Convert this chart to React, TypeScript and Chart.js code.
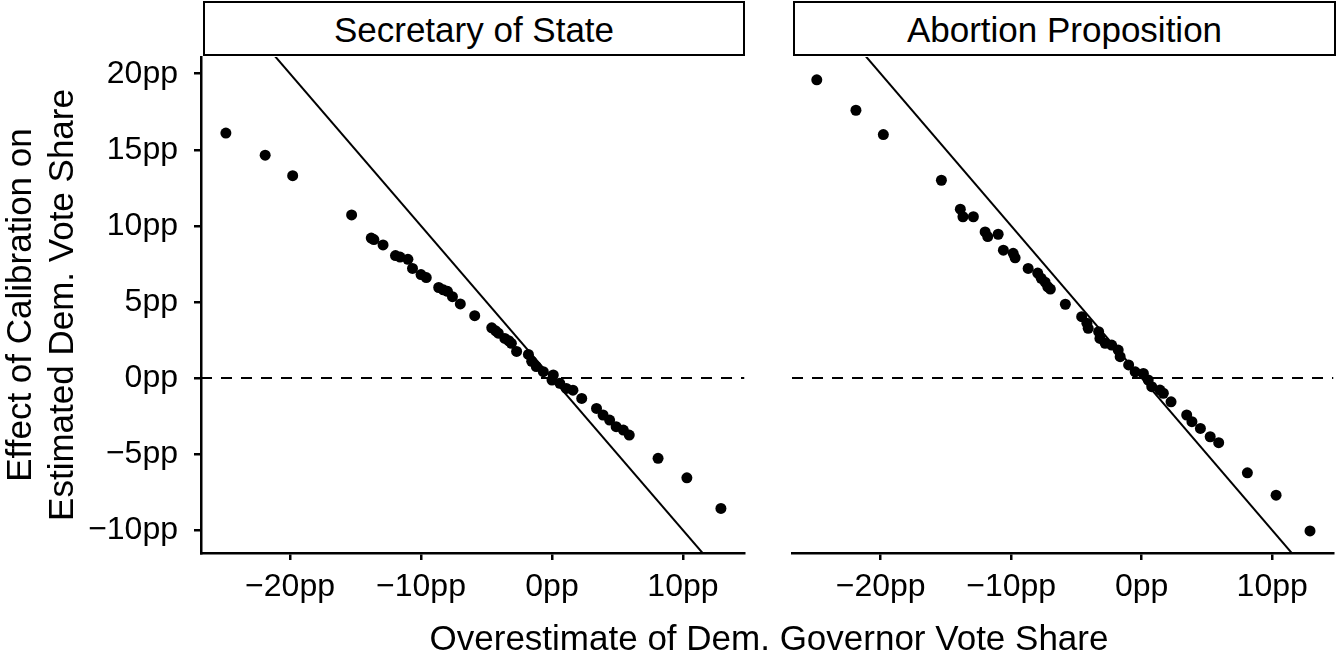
import { useEffect, useRef } from "react";
import { Chart, registerables } from "chart.js";

Chart.register(...registerables);

// axis ranges (pp)
const X_MIN = -26.8;
const X_MAX = 14.7;
const Y_MIN = -11.5;
const Y_MAX = 21.1;
const DIAG_SLOPE = -1;

const xTicks = [-20, -10, 0, 10];
const yTicks = [-10, -5, 0, 5, 10, 15, 20];

const panelTitles = ["Secretary of State", "Abortion Proposition"];
const xTitle = "Overestimate of Dem. Governor Vote Share";
const yTitle = ["Effect of Calibration on", "Estimated Dem. Vote Share"];

// Secretary of State
const sosX = [-24.9, -21.9, -19.8, -15.3, -13.8, -13.6, -12.9, -11.95, -11.6, -11.0, -10.65, -10.0, -9.6, -8.65, -8.3, -7.98, -7.6, -7.0, -5.9, -4.6, -4.3, -4.1, -3.6, -3.3, -3.1, -2.7, -1.8, -1.55, -1.2, -0.66, 0.1, 0.0, 0.6, 1.1, 1.6, 2.27, 3.4, 3.9, 4.4, 4.9, 5.45, 5.9, 8.1, 10.3, 12.9];
const sosY = [16.1, 14.65, 13.3, 10.72, 9.2, 9.1, 8.75, 8.05, 7.95, 7.8, 7.2, 6.8, 6.6, 5.95, 5.8, 5.7, 5.35, 4.87, 4.1, 3.3, 3.1, 2.95, 2.6, 2.45, 2.28, 1.75, 1.55, 1.1, 0.75, 0.42, 0.2, -0.13, -0.35, -0.68, -0.8, -1.34, -2.0, -2.43, -2.76, -3.2, -3.42, -3.75, -5.28, -6.56, -8.57];

// Abortion Proposition
const abX = [-24.9, -21.9, -19.8, -15.35, -13.9, -13.7, -12.9, -12.0, -11.8, -11.0, -10.6, -9.85, -9.7, -8.7, -7.97, -7.7, -7.4, -7.2, -7.0, -5.85, -4.6, -4.2, -4.1, -3.3, -3.2, -2.8, -2.3, -1.8, -1.65, -1.0, -0.5, 0.13, 0.5, 0.77, 1.4, 1.66, 2.25, 3.45, 3.85, 4.5, 5.25, 5.9, 8.1, 10.3, 12.9];
const abY = [19.6, 17.6, 16.0, 13.0, 11.1, 10.6, 10.6, 9.6, 9.3, 9.45, 8.4, 8.2, 7.9, 7.2, 6.9, 6.55, 6.3, 6.0, 5.85, 4.85, 4.03, 3.6, 3.27, 3.05, 2.6, 2.28, 2.17, 1.84, 1.4, 0.86, 0.41, 0.3, -0.13, -0.57, -0.79, -1.0, -1.56, -2.43, -2.87, -3.31, -3.86, -4.25, -6.23, -7.7, -10.05];

const FONT = "'Liberation Sans', Arial, Helvetica, sans-serif";
const CANVAS_H = 640;

const fmtPP = (v: number) => (v < 0 ? "\u2212" + Math.abs(v) : String(v)) + "pp";

type PanelProps = {
  xs: number[];
  ys: number[];
  showY: boolean;
  width: number;
  padLeft: number;
  padRight: number;
};

function Panel({ xs, ys, showY, width, padLeft, padRight }: PanelProps) {
  const canvasRef = useRef<HTMLCanvasElement | null>(null);

  useEffect(() => {
    if (!canvasRef.current) return;
    const axisLine = { display: true, color: "#000", width: 2.5 };
    const tickGrid = {
      display: true,
      drawOnChartArea: false,
      drawTicks: true,
      tickLength: 7,
      color: "#000",
      lineWidth: 2.5,
    };

    const chart = new Chart(canvasRef.current, {
      type: "scatter",
      data: {
        datasets: [
          {
            data: xs.map((x, i) => ({ x, y: ys[i] })),
            backgroundColor: "#000",
            borderWidth: 0,
            pointRadius: 5.5,
            order: 1,
          },
          {
            type: "line",
            data: [
              { x: X_MIN, y: DIAG_SLOPE * X_MIN },
              { x: X_MAX, y: DIAG_SLOPE * X_MAX },
            ],
            borderColor: "#000",
            borderWidth: 2,
            pointRadius: 0,
            showLine: true,
            order: 2,
          },
          {
            type: "line",
            data: [
              { x: X_MIN, y: 0 },
              { x: X_MAX, y: 0 },
            ],
            borderColor: "#000",
            borderWidth: 2,
            borderDash: [11, 9],
            pointRadius: 0,
            showLine: true,
            order: 3,
          },
        ],
      },
      options: {
        responsive: false,
        animation: false,
        layout: { padding: { top: 57, left: padLeft, right: padRight, bottom: 0 } },
        plugins: { legend: { display: false }, tooltip: { enabled: false } },
        scales: {
          x: {
            type: "linear",
            min: X_MIN,
            max: X_MAX,
            afterBuildTicks: (scale: any) => {
              scale.ticks = xTicks.map((v) => ({ value: v }));
            },
            afterFit: (scale: any) => {
              scale.height = CANVAS_H - 553;
            },
            ticks: {
              color: "#000",
              padding: 8,
              maxRotation: 0,
              font: { family: FONT, size: 32 },
              callback: (v: any) => fmtPP(Number(v)),
            },
            grid: tickGrid,
            border: axisLine,
          },
          y: {
            type: "linear",
            display: showY,
            min: Y_MIN,
            max: Y_MAX,
            afterBuildTicks: (scale: any) => {
              scale.ticks = yTicks.map((v) => ({ value: v }));
            },
            afterFit: (scale: any) => {
              scale.width = showY ? 201 : 0;
            },
            ticks: {
              color: "#000",
              padding: 16,
              font: { family: FONT, size: 32 },
              callback: (v: any) => fmtPP(Number(v)),
            },
            grid: tickGrid,
            border: axisLine,
            title: {
              display: true,
              text: yTitle,
              color: "#000",
              padding: 0,
              font: { family: FONT, size: 35, lineHeight: 1.2 },
            },
          },
        },
      },
    });

    return () => {
      chart.destroy();
    };
  }, [xs, ys, showY, padLeft, padRight]);

  return <canvas ref={canvasRef} width={width} height={CANVAS_H} style={{ width, height: CANVAS_H, display: "block" }} />;
}

const stripStyle = (left: number, width: number): React.CSSProperties => ({
  position: "absolute",
  left,
  top: 1,
  width,
  height: 55,
  boxSizing: "border-box",
  border: "2.5px solid #000",
  background: "#fff",
  display: "flex",
  alignItems: "center",
  justifyContent: "center",
  paddingTop: 3,
  fontFamily: FONT,
  fontSize: 35,
  color: "#000",
});

export default function App() {
  return (
    <div style={{ position: "absolute", left: 0, top: 0, width: 1339, height: 658, background: "#fff", overflow: "hidden" }}>
      <div style={{ position: "absolute", left: 0, top: 0 }}>
        <Panel xs={sosX} ys={sosY} showY={true} width={750} padLeft={0} padRight={5} />
      </div>
      <div style={{ position: "absolute", left: 746, top: 0 }}>
        <Panel xs={abX} ys={abY} showY={false} width={593} padLeft={46} padRight={3} />
      </div>
      <div style={stripStyle(203, 542)}>{panelTitles[0]}</div>
      <div style={stripStyle(793, 543)}>{panelTitles[1]}</div>
      <div
        style={{
          position: "absolute",
          left: 201,
          width: 1136,
          top: 618,
          lineHeight: "40px",
          textAlign: "center",
          fontFamily: FONT,
          fontSize: 35,
          color: "#000",
        }}
      >
        {xTitle}
      </div>
    </div>
  );
}
